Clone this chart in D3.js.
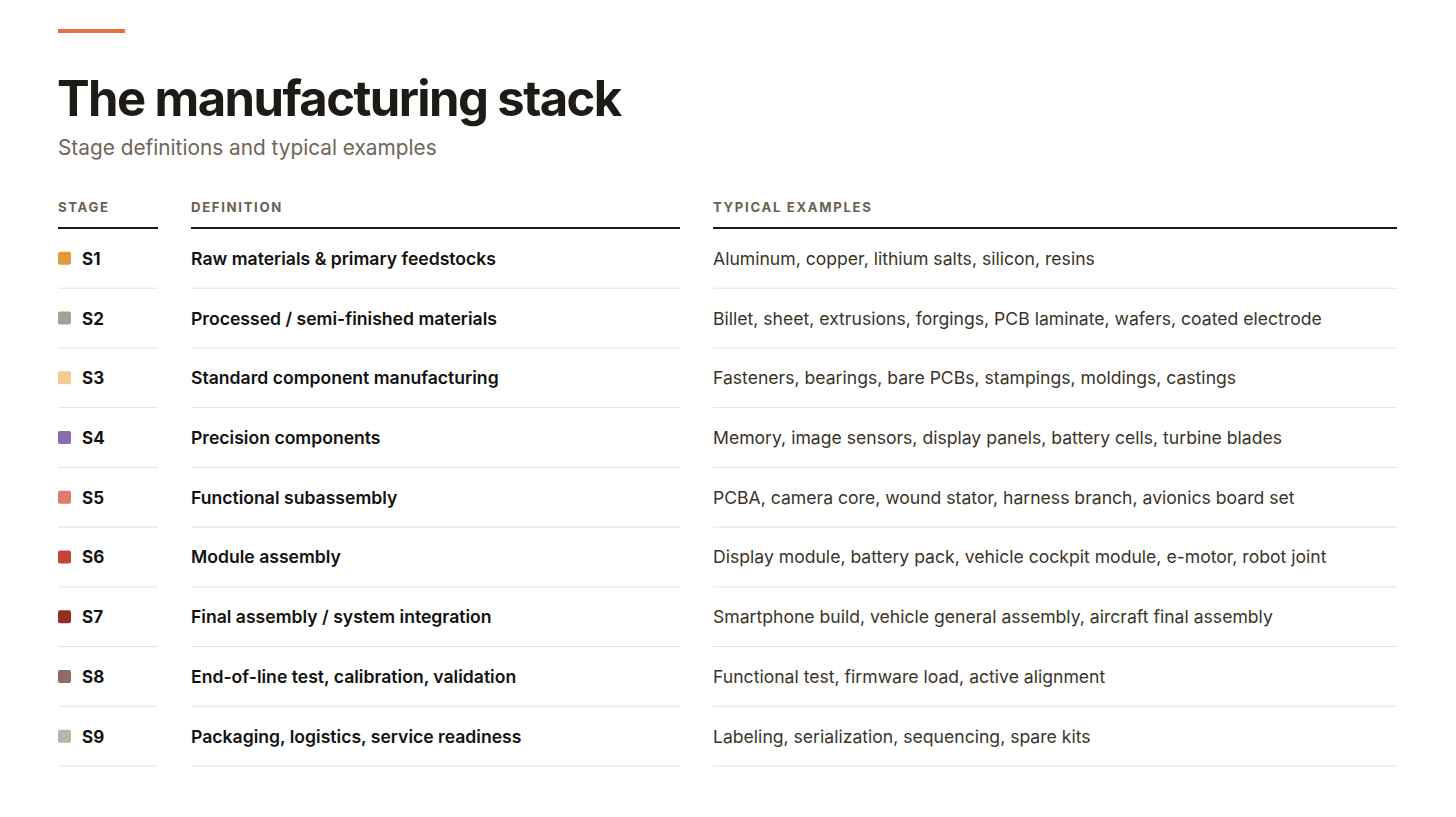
<!DOCTYPE html>
<html><head><meta charset="utf-8">
<script src="https://cdn.jsdelivr.net/npm/d3@7"></script>
<style>
html,body{margin:0;padding:0;background:#fff;}
svg{display:block;font-family:Inter, "Noto Sans", sans-serif;}
</style></head>
<body><svg id="c" width="1456" height="817"></svg>
<script>
const stages = ["S1","S2","S3","S4","S5","S6","S7","S8","S9"];
const definitions = [
 "Raw materials & primary feedstocks",
 "Processed / semi-finished materials",
 "Standard component manufacturing",
 "Precision components",
 "Functional subassembly",
 "Module assembly",
 "Final assembly / system integration",
 "End-of-line test, calibration, validation",
 "Packaging, logistics, service readiness"];
const examples = [
 "Aluminum, copper, lithium salts, silicon, resins",
 "Billet, sheet, extrusions, forgings, PCB laminate, wafers, coated electrode",
 "Fasteners, bearings, bare PCBs, stampings, moldings, castings",
 "Memory, image sensors, display panels, battery cells, turbine blades",
 "PCBA, camera core, wound stator, harness branch, avionics board set",
 "Display module, battery pack, vehicle cockpit module, e-motor, robot joint",
 "Smartphone build, vehicle general assembly, aircraft final assembly",
 "Functional test, firmware load, active alignment",
 "Labeling, serialization, sequencing, spare kits"];
const stageColors = ["#E09A3A","#A89F94","#F0CD8E","#8A6BB0","#DF7B6B","#C4443A","#952E25","#8F6B66","#BCB2A5"];
const headers = ["STAGE","DEFINITION","TYPICAL EXAMPLES"];

const svg = d3.select("#c");
// accent bar
svg.append("rect").attr("x",58).attr("y",29).attr("width",67).attr("height",4).attr("fill","#E8703F");
svg.append("text").attr("x",57).attr("y",116).attr("font-size",49).attr("font-weight",700)
  .attr("letter-spacing",-1.6).attr("fill","#1e1b16").text("The manufacturing stack");
svg.append("text").attr("x",58).attr("y",155).attr("font-size",20.8).attr("fill","#6e6557")
  .text("Stage definitions and typical examples");

const cols = [{x0:58,x1:158},{x0:191,x1:680},{x0:713,x1:1397}];
const y = d3.scaleBand().domain(stages).range([229,766.5]);

const g = svg.append("g");
cols.forEach((c,i)=>{
  g.append("text").attr("x",c.x0).attr("y",212).attr("font-size",13.2).attr("font-weight",700)
   .attr("letter-spacing",1.65).attr("fill","#6b604f").text(headers[i]);
  g.append("line").attr("x1",c.x0).attr("x2",c.x1).attr("y1",228).attr("y2",228)
   .attr("stroke","#1a1a1a").attr("stroke-width",2);
  g.selectAll(null).data(stages).join("line")
   .attr("x1",c.x0).attr("x2",c.x1)
   .attr("y1",d=>y(d)+y.bandwidth()-0.5).attr("y2",d=>y(d)+y.bandwidth()-0.5)
   .attr("stroke","#E8E1D6").attr("stroke-width",1);
});

const rows = g.selectAll("g.row").data(stages).join("g").attr("class","row")
  .attr("transform",d=>`translate(0,${y(d)+y.bandwidth()/2})`);
rows.append("rect").attr("x",58).attr("y",-7).attr("width",13).attr("height",13).attr("rx",2)
  .attr("fill",(d,i)=>stageColors[i]);
rows.append("text").attr("x",82).attr("y",6).attr("font-size",17).attr("font-weight",700)
  .attr("fill","#141210").text(d=>d);
rows.append("text").attr("x",191).attr("y",6).attr("font-size",17.6).attr("font-weight",600)
  .attr("fill","#141210").text((d,i)=>definitions[i]);
rows.append("text").attr("x",713).attr("y",6).attr("font-size",17.6).attr("font-weight",400)
  .attr("fill","#3b3327").text((d,i)=>examples[i]);
</script></body></html>
